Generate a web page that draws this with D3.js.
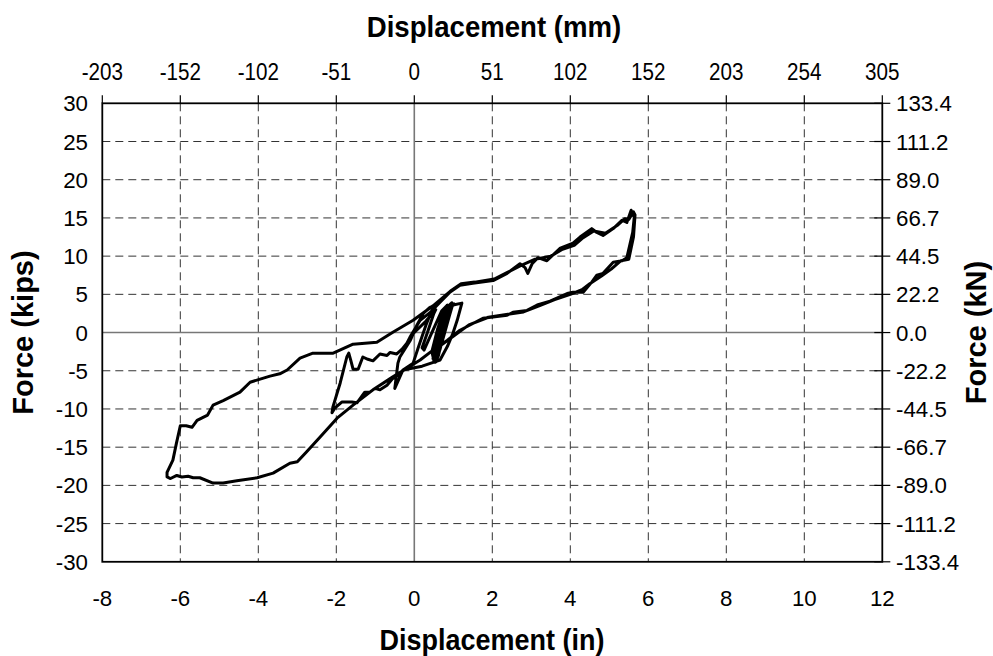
<!DOCTYPE html>
<html><head><meta charset="utf-8">
<script src="https://cdn.jsdelivr.net/npm/d3@7"></script>
<style>
html,body{margin:0;padding:0;background:#fff;}
svg text{font-family:"Liberation Sans",Arial,sans-serif;fill:#000;}
</style></head>
<body>
<svg id="chart" width="993" height="656"></svg>
<script>
// ---------- data ----------
const xTicksIn = [-8,-6,-4,-2,0,2,4,6,8,10,12];
const xTicksMmLabels = ["-203","-152","-102","-51","0","51","102","152","203","254","305"];
const yTicksKips = [-30,-25,-20,-15,-10,-5,0,5,10,15,20,25,30];
const yTicksKnLabels = ["-133.4","-111.2","-89.0","-66.7","-44.5","-22.2","0.0","22.2","44.5","66.7","89.0","111.2","133.4"];

// hysteresis record: displacement (in) and force (kips) in order
const dispIn = [
 0,0.3,0.55,0.5,0.35,0.2,0.25,0.45,0.7,0.85,0.78,0.6,0.45,0.5,0.62,0.78,0.92,0.85,0.68,0.52,
 0.48,0.58,0.72,0.88,0.95,0.88,0.72,0.58,0.5,0.55,0.66,0.8,0.97,0.9,0.75,0.62,0.52,0.58,0.7,0.84,
 0.6,0.68,0.78,0.9,0.98,0.92,0.8,0.68,0.57,0.5,
 0.56,0.66,0.74,0.84,0.93,1.02,0.95,0.82,0.7,0.6,0.53,
 0.62,0.7,0.8,0.88,0.96,0.9,0.78,0.66,0.56,0.5,0.55,0.64,0.76,0.86,0.94,
 1.0,1.22,1.1,0.99,0.85,0.66,0.2,-0.29,-0.5,-0.42,-0.37,-0.1,0.07,0.23,0.4,0.5,
 0.3,0.1,-0.03,-0.29,-0.42,-0.55,-0.7,-0.88,-1.01,-1.14,-1.27,-1.47,-1.6,-1.86,-2.04,-2.11,
 -2.09,-1.9,-1.73,-1.68,-1.63,-1.57,-1.44,-1.32,-1.19,-1.06,-0.88,-0.7,-0.62,-0.45,-0.32,-0.19,-0.11,0.15,0.4,0.66,
 0.92,1.17,1.5,2.02,2.38,2.71,2.84,2.91,3.02,3.17,3.4,3.73,4.07,4.25,4.55,4.68,4.84,5.1,5.33,5.45,5.56,5.64,
 5.6,5.45,5.33,5.1,4.84,4.68,4.55,4.33,4.07,3.92,3.48,3.15,2.89,2.53,2.38,1.76,1.17,0.85,0.48,0.15,-0.2,
 -0.55,-1.06,-1.57,-1.98,-2.42,-2.76,-3.0,-3.19,-3.62,-4.03,-4.55,-4.9,-5.16,-5.5,-5.67,-5.8,-5.96,-6.09,-6.25,-6.34,-6.34,
 -6.19,-6.1,-6.0,-5.85,-5.7,-5.57,-5.3,-5.16,-4.9,-4.47,-4.21,-3.7,-3.45,-3.26,-2.93,-2.6,-2.08,-1.57,-0.96,-0.55,-0.03,0.48,
 0.92,1.2,1.55,2.05,2.4,2.7,3.1,3.5,3.8,4.1,4.3,4.6,4.9,5.2,5.4,5.5,5.62,5.66,
 5.62,5.5,5.3,5.05,4.8,4.5,4.3,4.0,3.6,3.2,2.8,2.4,1.9,1.4,1.0,0.7
];
const forceKips = [
 0,1.5,3.0,2.5,0.2,-2.0,-2.3,0,2.8,3.6,3.2,0.5,-2.5,-3.6,-1.5,1.2,3.5,3.4,0.6,-2.2,
 -3.4,-2.0,0.4,2.8,3.7,3.5,1.2,-1.4,-3.0,-3.7,-1.6,1.0,3.8,3.6,1.5,-1.0,-3.3,-3.6,-1.4,1.1,
 -3.2,-1.8,0,2.2,3.6,3.7,2.0,0,-2.0,-3.5,
 -3.8,-2.2,-0.6,1.4,3.2,3.75,3.3,1.2,-0.8,-2.6,-3.9,
 -3.0,-1.2,0.8,2.6,3.9,3.6,1.6,-0.4,-2.4,-3.7,-3.4,-1.6,0.6,2.4,3.4,
 3.6,3.85,1.6,-0.1,-1.8,-3.6,-4.4,-4.9,-7.3,-4.0,-3.2,-1.0,1.0,2.5,3.3,3.5,
 1.0,-2.0,-4.0,-4.9,-5.6,-6.0,-6.9,-7.5,-7.3,-7.8,-7.8,-9.2,-9.1,-9.1,-9.9,-10.5,
 -9.8,-6.6,-3.2,-2.7,-3.6,-4.8,-4.8,-3.2,-3.5,-3.7,-2.8,-3.0,-2.6,-2.8,-2.2,-1.4,-0.6,1.6,2.6,3.96,
 5.3,6.2,6.45,6.8,7.75,9.0,8.5,7.75,9.0,9.8,9.4,11.0,11.7,12.5,13.6,13.1,12.7,13.6,14.7,14.4,16.0,15.1,
 13.1,9.8,9.4,9.2,7.75,7.5,6.6,5.27,5.27,5.1,4.1,3.6,2.9,2.65,2.26,1.87,0.3,-1.0,-2.3,-3.6,-4.7,
 -5.8,-7.5,-9.5,-11.2,-13.7,-15.6,-16.9,-17.1,-18.4,-19.0,-19.4,-19.7,-19.7,-19.0,-19.0,-18.8,-18.9,-18.7,-19.1,-18.9,-18.3,
 -16.7,-14.5,-12.2,-12.2,-12.4,-11.5,-10.8,-9.5,-8.9,-7.8,-6.5,-5.7,-5.4,-4.9,-3.35,-2.7,-2.7,-1.53,-1.27,0.04,1.6,3.5,
 5.4,6.4,6.6,7.0,7.9,8.7,9.6,10.0,10.9,11.4,12.3,13.3,13.0,14.0,14.9,14.8,15.8,15.4,
 12.5,9.6,9.4,8.3,7.4,6.4,5.6,5.0,4.3,3.5,2.7,2.4,2.0,1.0,-0.5,-1.6
];

// ---------- layout ----------
const svg = d3.select("#chart");
const L = 102.3, R = 882.3, T = 103.3, B = 561.8;
const x = d3.scaleLinear().domain([-8,12]).range([L,R]);
const y = d3.scaleLinear().domain([-30,30]).range([B,T]);
const xMm = d3.scaleLinear().domain([0,xTicksIn.length-1]).range([L,R]);

const TICK_FS = 23, TICK_SX = 0.97;

// grid
const g = svg.append("g");
g.selectAll("line.vg").data(xTicksIn.filter(d=>d!==0 && d!==-8 && d!==12)).join("line")
  .attr("x1",d=>x(d)).attr("x2",d=>x(d)).attr("y1",T).attr("y2",B)
  .attr("stroke","#333").attr("stroke-width",1).attr("stroke-dasharray","8,5");
g.selectAll("line.hg").data(yTicksKips.filter(d=>d!==0 && d!==30 && d!==-30)).join("line")
  .attr("x1",L).attr("x2",R).attr("y1",d=>y(d)).attr("y2",d=>y(d))
  .attr("stroke","#333").attr("stroke-width",1).attr("stroke-dasharray","8,5");
// zero lines
g.append("line").attr("x1",x(0)).attr("x2",x(0)).attr("y1",T).attr("y2",B).attr("stroke","#777").attr("stroke-width",1.6);
g.append("line").attr("x1",L).attr("x2",R).attr("y1",y(0)).attr("y2",y(0)).attr("stroke","#777").attr("stroke-width",1.6);

// frame
svg.append("rect").attr("x",L).attr("y",T).attr("width",R-L).attr("height",B-T)
  .attr("fill","none").attr("stroke","#000").attr("stroke-width",1.8);

// top ticks
svg.selectAll("line.tt").data(xTicksIn).join("line")
  .attr("x1",d=>x(d)).attr("x2",d=>x(d)).attr("y1",T-8).attr("y2",T)
  .attr("stroke","#000").attr("stroke-width",1.2);
// right ticks
svg.selectAll("line.rt").data(yTicksKips).join("line")
  .attr("x1",R-8).attr("x2",R+8).attr("y1",d=>y(d)).attr("y2",d=>y(d))
  .attr("stroke","#000").attr("stroke-width",1.2);

function txt(sel, xx, yy, s, fs, sx, anchor, weight, rot){
  const t = sel.append("text")
    .attr("transform",`translate(${xx},${yy}) scale(${sx},1)` + (rot?` rotate(${rot})`:""))
    .attr("font-size",fs).attr("text-anchor",anchor).text(s);
  if(weight) t.attr("font-weight",weight);
  return t;
}
// bottom tick labels
xTicksIn.forEach(d=>txt(svg, x(d), 606, d, TICK_FS, TICK_SX, "middle"));
// top tick labels (mm)
xTicksMmLabels.forEach((s,i)=>txt(svg, xMm(i), 80, s, 24, 0.86, "middle"));
// left tick labels
yTicksKips.forEach(d=>txt(svg, 88, y(d)+8, d, TICK_FS, TICK_SX, "end"));
// right tick labels
yTicksKnLabels.forEach((s,i)=>txt(svg, 896, y(yTicksKips[i])+8, s, TICK_FS, TICK_SX, "start"));

// titles
txt(svg, 492, 650, "Displacement (in)", 29, 0.93, "middle", "bold");
txt(svg, 494, 37, "Displacement (mm)", 30, 0.92, "middle", "bold");
txt(svg, 33, (T+B)/2, "Force (kips)", 29, 1.0, "middle", "bold", -90);
txt(svg, 986, (T+B)/2, "Force (kN)", 29, 1.0, "middle", "bold", -90);

// curve
const pts = dispIn.map((d,i)=>[d, forceKips[i]]);
svg.append("path").datum(pts)
  .attr("d", d3.line().x(d=>x(d[0])).y(d=>y(d[1])))
  .attr("fill","none").attr("stroke","#000").attr("stroke-width",3)
  .attr("stroke-linejoin","round").attr("stroke-linecap","round");
</script>
</body></html>
